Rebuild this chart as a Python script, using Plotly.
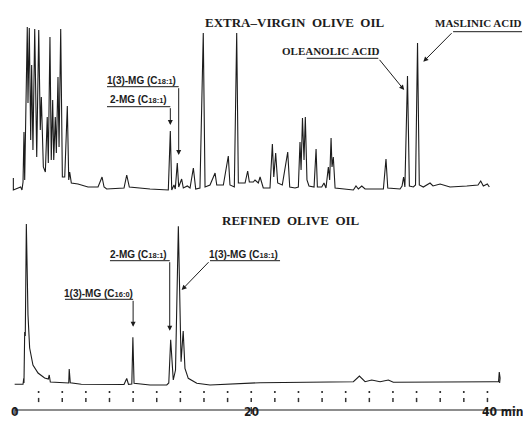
import plotly.graph_objects as go

# Extra-virgin olive oil chromatogram: retention time (min) and detector response
evoo_time = [-0.14, -0.14, 0.48, 0.59, 0.68, 0.76, 0.82, 1.04, 1.10, 1.21,
             1.33, 1.41, 1.52, 1.67, 1.84, 2.01, 2.14, 2.23, 2.40, 2.57,
             2.73, 2.82, 2.96, 3.07, 3.19, 3.28, 3.41, 3.50, 3.64, 3.73,
             3.87, 4.01, 4.21, 4.43, 4.55, 4.63, 4.77, 5.33, 6.18, 7.03,
             7.37, 7.54, 7.76, 9.23, 9.46, 9.68, 11.43, 12.98, 13.15, 13.27,
             13.46, 13.57, 13.74, 13.86, 14.11, 14.25, 14.59, 14.82, 15.10, 15.30,
             15.66, 15.94, 16.09, 16.51, 16.94, 17.08, 17.64, 18.06, 18.20, 18.57,
             18.77, 18.91, 19.48, 19.70, 19.84, 20.18, 20.32, 20.60, 20.75, 21.02,
             21.59, 21.79, 21.91, 22.07, 22.24, 22.63, 23.09, 23.26, 23.71, 23.99,
             24.13, 24.22, 24.34, 24.47, 24.58, 24.72, 24.89, 25.32, 25.49, 25.60,
             25.97, 26.16, 26.33, 26.53, 26.64, 26.76, 26.84, 26.95, 27.10, 27.80,
             28.65, 28.87, 29.07, 29.36, 29.64, 31.19, 31.41, 31.56, 32.60, 32.77,
             32.90, 33.01, 33.23, 33.39, 33.73, 33.91, 34.08, 34.23, 34.57, 35.14,
             35.39, 35.99, 36.83, 38.25, 39.20, 39.43, 39.65, 39.99, 40.16]
evoo_signal = [12, 0, 3, 0, 8, 58, 10, 163, 87, 162,
               50, 125, 40, 161, 33, 160, 60, 93, 23, 18,
               73, 27, 153, 30, 90, 30, 73, 37, 113, 43,
               161, 13, 13, 84, 10, 18, 7, 6, 3, 3,
               13, 3, 1, 2, 15, 3, 1, 0, 59, 0,
               5, 1, 27, 3, 11, 2, 4, 2, 22, 1,
               2, 157, 3, 5, 17, 5, 5, 34, 5, 3,
               157, 7, 7, 19, 8, 8, 10, 7, 13, 2,
               2, 46, 13, 37, 7, 5, 38, 3, 2, 3,
               48, 20, 72, 30, 73, 10, 4, 3, 41, 3,
               3, 7, 2, 23, 10, 52, 23, 33, 2, 1,
               0, 4, 1, 4, 1, 1, 31, 2, 1, 4,
               13, 3, 114, 4, 3, 5, 147, 5, 3, 7,
               4, 6, 3, 4, 5, 9, 4, 6, 3]

# Refined olive oil chromatogram
refined_time = [-0.03, 0.68, 0.74, 0.76, 0.82, 0.87, 0.96, 1.10, 1.24, 1.52,
                1.95, 2.51, 2.82, 2.90, 2.99, 3.92, 4.55, 4.59, 4.68, 5.61,
                9.23, 9.46, 9.61, 9.89, 9.98, 10.08, 11.43, 12.85, 13.02, 13.18,
                13.40, 13.59, 13.83, 14.06, 14.24, 14.39, 14.67, 15.39, 16.51, 20.75,
                28.65, 29.16, 29.64, 30.20, 30.91, 31.61, 32.03, 40.50, 40.94, 41.00,
                41.07, 41.03]
refined_signal = [0.7, 0.7, 6.7, 2, 53, 49, 161, 70, 37, 20,
                  12, 7, 6, 10, 3, 2.3, 2, 16, 2.3, 0.7,
                  0.5, 6.5, 0.7, 1, 47.7, 1.7, 0, 0, 2, 45.3,
                  5, 15, 158.7, 23.3, 54, 16.7, 6.7, 1.7, 0, 2.3,
                  3.3, 9, 3.3, 5, 3.3, 5, 2.7, 3.3, 3.3, 13,
                  7, 2]

# Time axis
axis_ticks = [0, 20, 40]
axis_labels = ["0", "20", "40 min"]
minute_marks = [2, 4, 6, 8, 10, 12, 14, 16, 18, 20,
                22, 24, 26, 28, 30, 32, 34, 36, 38, 40]

INK = "#1c1c1c"
SANS = "Liberation Sans"
SERIF = "Liberation Serif"


def mg(label, chain):
    return f"{label} (C<span style='font-size:7.5px'>{chain}</span>)"


fig = go.Figure()
fig.add_trace(go.Scatter(x=evoo_time, y=evoo_signal, mode="lines",
                         line=dict(color=INK, width=1.1),
                         xaxis="x", yaxis="y", hoverinfo="skip"))
fig.add_trace(go.Scatter(x=refined_time, y=refined_signal, mode="lines",
                         line=dict(color=INK, width=1.1),
                         xaxis="x", yaxis="y2", hoverinfo="skip"))
# recorder minute marks under the lower trace
fig.add_trace(go.Scatter(x=minute_marks, y=[-7] * len(minute_marks), mode="markers",
                         marker=dict(symbol="circle", size=2, color=INK),
                         xaxis="x", yaxis="y2", hoverinfo="skip"))
fig.add_trace(go.Scatter(x=minute_marks, y=[-15] * len(minute_marks), mode="markers",
                         marker=dict(symbol="line-ns-open", size=3, color="#333",
                                     line=dict(color="#333", width=1.5)),
                         xaxis="x", yaxis="y2", hoverinfo="skip"))

shapes = []
annotations = []

# time axis line with ticks
axis_y = 1 - 410 / 433
shapes.append(dict(type="line", xref="x", yref="paper", x0=0, x1=42.42,
                   y0=axis_y, y1=axis_y, line=dict(color=INK, width=1.2)))
for t, lab in zip(axis_ticks, axis_labels):
    shapes.append(dict(type="line", xref="x", yref="paper", x0=t, x1=t,
                       y0=1 - 414 / 433, y1=1 - 407 / 433,
                       line=dict(color=INK, width=1.2)))
    is_unit = lab.endswith("min")
    annotations.append(dict(x=t, y=1 - 421 / 433, xref="x", yref="paper",
                            text=f"<b>{lab}</b>", showarrow=False,
                            xanchor="left" if is_unit else "center",
                            xshift=-7.5 if is_unit else 0,
                            font=dict(family="DejaVu Sans Condensed", size=12, color=INK)))

NB = "\u00a0"
# panel titles
annotations.append(dict(x=23.7, y=168, xref="x", yref="y",
                        text=f"<b>EXTRA–VIRGIN{NB}{NB}OLIVE{NB}{NB}OIL</b>", showarrow=False,
                        font=dict(family=SERIF, size=13, color=INK)))
annotations.append(dict(x=23.4, y=165, xref="x", yref="y2",
                        text=f"<b>REFINED{NB}{NB}OLIVE{NB}{NB}OIL</b>", showarrow=False,
                        font=dict(family=SERIF, size=13, color=INK)))

# peak labels: text, text position, underline span, leader end, arrow head
labels = [
    # (yref, text, font, text_x, text_y, ul_x0, ul_x1, ul_y, tail_x, head_x, head_y)
    ("y", mg("1(3)-MG", "18:1"), SANS, 10.75, 110, 7.79, 13.86, 103.3, 13.86, 13.86, 35),
    ("y", mg("2-MG", "18:1"), SANS, 10.46, 91, 7.79, 13.15, 83.3, 13.15, 13.15, 65),
    ("y", "OLEANOLIC ACID", SERIF, 26.74, 139.5, 24.70, 30.76, 131.7, 30.76, 32.95, 100),
    ("y", "MASLINIC ACID", SERIF, 39.25, 167, 37.09, 42.93, 158.3, 37.09, 34.57, 128.3),
    ("y2", mg("2-MG", "18:1"), SANS, 10.46, 131, 8.04, 13.10, 124.3, 13.10, 13.10, 54.3),
    ("y2", mg("1(3)-MG", "16:0"), SANS, 7.11, 92, 4.23, 10.0, 85.7, 10.0, 10.0, 58.3),
    ("y2", mg("1(3)-MG", "18:1"), SANS, 19.33, 131, 16.51, 22.44, 124.3, 16.51, 14.11, 95),
]
for yref, text, fam, tx, ty, u0, u1, uy, tail_x, hx, hy in labels:
    serif = fam == SERIF
    annotations.append(dict(x=tx, y=ty, xref="x", yref=yref, text=f"<b>{text}</b>",
                            showarrow=False,
                            font=dict(family=fam, size=11 if serif else 10, color=INK)))
    shapes.append(dict(type="line", xref="x", yref=yref, x0=u0, x1=u1, y0=uy, y1=uy,
                       line=dict(color=INK, width=1)))
    annotations.append(dict(x=hx, y=hy, xref="x", yref=yref, ax=tail_x, ay=uy,
                            axref="x", ayref=yref, text="", showarrow=True,
                            arrowhead=2, arrowsize=1, arrowwidth=1, arrowcolor=INK,
                            standoff=0))

fig.update_layout(
    width=523, height=433,
    margin=dict(l=0, r=0, t=0, b=0),
    paper_bgcolor="white", plot_bgcolor="white",
    showlegend=False,
    xaxis=dict(range=[-1.27, 43.01], domain=[0, 1], visible=False, anchor="y2"),
    yaxis=dict(range=[-10, 180], domain=[1 - 200 / 433, 1 - 10 / 433], visible=False),
    yaxis2=dict(range=[-35, 180], domain=[1 - 420 / 433, 1 - 205 / 433], visible=False),
    shapes=shapes,
    annotations=annotations,
)

fig.write_html("out.html")
